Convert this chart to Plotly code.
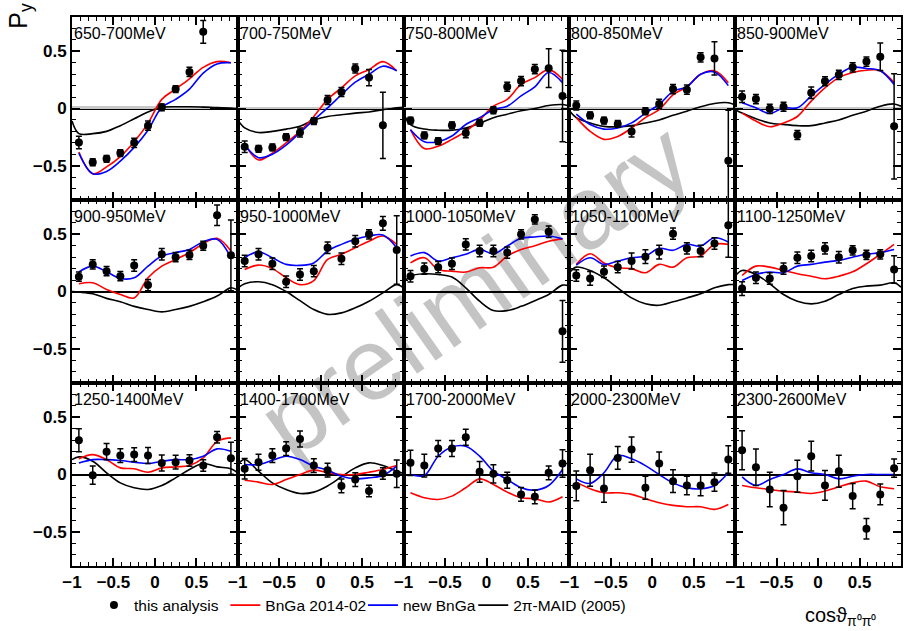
import plotly.graph_objects as go
from plotly.subplots import make_subplots

energy_labels = ["650-700MeV", "700-750MeV", "750-800MeV", "800-850MeV", "850-900MeV",
                 "900-950MeV", "950-1000MeV", "1000-1050MeV", "1050-1100MeV", "1100-1250MeV",
                 "1250-1400MeV", "1400-1700MeV", "1700-2000MeV", "2000-2300MeV", "2300-2600MeV"]

cos_bins = [-0.917, -0.75, -0.583, -0.417, -0.25, -0.083, 0.083, 0.25, 0.417, 0.583, 0.75, 0.917]
maid_cos = [-1.0, -0.917, -0.75, -0.583, -0.417, -0.25, -0.083, 0.083, 0.25, 0.417, 0.583, 0.75, 0.917, 1.0]

py_values = [
    [-0.297, -0.47, -0.44, -0.39, -0.30, -0.15, 0.01, 0.17, 0.32, 0.67, None, None],
    [-0.335, -0.353, -0.34, -0.25, -0.21, -0.11, 0.074, 0.144, 0.35, 0.27, -0.147, None],
    [-0.106, -0.235, -0.285, -0.147, -0.215, -0.126, -0.015, 0.19, 0.24, 0.344, 0.353, 0.11],
    [0.026, -0.06, -0.106, -0.135, -0.2, -0.024, 0.04, 0.17, 0.165, 0.447, 0.438, -0.456],
    [0.103, 0.082, -0.003, 0.015, -0.232, 0.138, 0.238, 0.294, 0.36, 0.41, 0.453, -0.156],
    [0.13, 0.237, 0.178, 0.134, 0.228, 0.056, 0.325, 0.30, 0.32, 0.40, 0.667, 0.316],
    [0.266, 0.325, 0.243, 0.085, 0.149, 0.178, 0.383, 0.287, 0.44, 0.5, 0.596, 0.363],
    [0.134, 0.20, 0.213, 0.243, 0.412, 0.354, 0.354, 0.34, 0.50, 0.63, 0.523, -0.348],
    [0.14, 0.114, 0.172, 0.213, 0.266, 0.304, 0.345, 0.506, 0.377, 0.354, 0.42, 0.579],
    [0.026, 0.12, 0.114, 0.20, 0.295, 0.31, 0.377, 0.30, 0.36, 0.32, 0.325, 0.193],
    [0.30, -0.006, 0.20, 0.166, 0.174, 0.166, 0.10, 0.108, 0.122, 0.078, 0.326, 0.142],
    [0.05, 0.108, 0.166, 0.227, 0.311, 0.078, 0.038, -0.10, -0.044, -0.145, 0.009, 0.006],
    [0.102, 0.078, 0.227, 0.227, 0.326, 0.023, 0.006, -0.05, -0.174, -0.195, 0.015, 0.096],
    [-0.10, 0.038, -0.122, 0.145, 0.218, -0.116, 0.096, -0.058, -0.096, -0.096, -0.067, 0.131],
    [0.212, 0.064, -0.131, -0.29, -0.015, 0.16, -0.096, 0.029, -0.189, -0.474, -0.174, 0.055],
]

py_errors = [
    [0.055, 0.03, 0.03, 0.03, 0.04, 0.04, 0.03, 0.03, 0.04, 0.10, None, None],
    [0.05, 0.03, 0.03, 0.03, 0.04, 0.03, 0.04, 0.04, 0.04, 0.07, 0.29, None],
    [0.03, 0.03, 0.03, 0.03, 0.04, 0.03, 0.03, 0.04, 0.04, 0.04, 0.17, 0.40],
    [0.04, 0.03, 0.03, 0.03, 0.05, 0.03, 0.04, 0.04, 0.04, 0.04, 0.145, 0.44],
    [0.05, 0.04, 0.04, 0.04, 0.04, 0.05, 0.04, 0.04, 0.04, 0.04, 0.12, 0.46],
    [0.04, 0.04, 0.04, 0.04, 0.05, 0.05, 0.05, 0.04, 0.04, 0.04, 0.09, 0.31],
    [0.05, 0.05, 0.05, 0.05, 0.05, 0.05, 0.05, 0.05, 0.05, 0.04, 0.06, 0.30],
    [0.05, 0.05, 0.05, 0.05, 0.05, 0.05, 0.05, 0.05, 0.04, 0.04, 0.05, 0.27],
    [0.05, 0.06, 0.05, 0.05, 0.07, 0.06, 0.06, 0.05, 0.05, 0.05, 0.05, 0.28],
    [0.06, 0.05, 0.05, 0.05, 0.05, 0.05, 0.05, 0.05, 0.04, 0.04, 0.04, 0.12],
    [0.10, 0.08, 0.07, 0.06, 0.06, 0.07, 0.07, 0.06, 0.05, 0.05, 0.05, 0.14],
    [0.09, 0.07, 0.06, 0.06, 0.07, 0.06, 0.06, 0.06, 0.06, 0.05, 0.05, 0.12],
    [0.11, 0.10, 0.07, 0.07, 0.07, 0.09, 0.08, 0.07, 0.06, 0.06, 0.06, 0.12],
    [0.13, 0.14, 0.12, 0.10, 0.11, 0.10, 0.10, 0.10, 0.08, 0.09, 0.08, 0.12],
    [0.17, 0.16, 0.15, 0.15, 0.14, 0.13, 0.13, 0.14, 0.11, 0.09, 0.09, 0.08],
]

bnga2014_values = [
    [-0.38, -0.57, -0.51, -0.42, -0.29, -0.13, 0.08, 0.17, 0.26, 0.36, 0.41, 0.40],
    [-0.31, -0.45, -0.39, -0.30, -0.20, -0.07, 0.08, 0.18, 0.285, 0.34, 0.41, 0.33],
    [-0.185, -0.35, -0.33, -0.27, -0.20, -0.10, 0.02, 0.08, 0.21, 0.27, 0.34, 0.256],
    [-0.08, -0.20, -0.27, -0.245, -0.17, -0.08, -0.01, 0.12, 0.19, 0.30, 0.33, 0.226],
    [-0.04, -0.11, -0.16, -0.126, -0.07, 0.065, 0.18, 0.27, 0.315, 0.335, 0.33, 0.226],
    [0.067, 0.076, 0.018, -0.026, -0.056, 0.12, 0.222, 0.28, 0.34, 0.418, 0.465, 0.354],
    [0.193, 0.231, 0.20, 0.12, 0.06, 0.096, 0.28, 0.325, 0.383, 0.44, 0.485, 0.412],
    [0.25, 0.295, 0.193, 0.178, 0.17, 0.207, 0.213, 0.31, 0.368, 0.40, 0.44, 0.46],
    [0.237, 0.33, 0.25, 0.207, 0.20, 0.164, 0.237, 0.213, 0.295, 0.31, 0.412, 0.412],
    [0.14, 0.222, 0.213, 0.184, 0.155, 0.134, 0.111, 0.134, 0.172, 0.243, 0.325, 0.412],
    [0.137, 0.174, 0.13, 0.058, 0.05, 0.02, 0.058, 0.067, 0.078, 0.145, 0.29, 0.32],
    [-0.05, -0.067, -0.087, -0.044, 0.0, 0.038, 0.015, 0.0, 0.0, 0.02, 0.044, 0.078],
    [-0.16, -0.203, -0.218, -0.189, -0.116, -0.038, -0.087, -0.154, -0.203, -0.212, -0.241, -0.195],
    [-0.067, -0.125, -0.16, -0.16, -0.174, -0.212, -0.247, -0.27, -0.282, -0.282, -0.305, -0.262],
    [-0.096, -0.116, -0.131, -0.145, -0.154, -0.166, -0.145, -0.108, -0.073, -0.058, -0.108, -0.125],
]

new_bnga_values = [
    [-0.39, -0.57, -0.55, -0.46, -0.34, -0.19, 0.01, 0.08, 0.17, 0.31, 0.39, 0.40],
    [-0.32, -0.43, -0.40, -0.32, -0.21, -0.10, 0.006, 0.12, 0.23, 0.30, 0.37, 0.33],
    [-0.185, -0.29, -0.29, -0.24, -0.14, -0.08, -0.01, 0.02, 0.11, 0.19, 0.315, 0.226],
    [-0.05, -0.14, -0.18, -0.17, -0.126, -0.04, 0.035, 0.15, 0.19, 0.30, 0.32, 0.20],
    [0.05, 0.006, -0.044, 0.006, 0.006, 0.11, 0.21, 0.30, 0.36, 0.35, 0.33, 0.21],
    [0.172, 0.222, 0.172, 0.114, 0.12, 0.222, 0.31, 0.34, 0.368, 0.435, 0.456, 0.295],
    [0.295, 0.348, 0.295, 0.237, 0.228, 0.25, 0.354, 0.412, 0.456, 0.485, 0.494, 0.383],
    [0.31, 0.34, 0.266, 0.295, 0.325, 0.368, 0.33, 0.398, 0.465, 0.477, 0.485, 0.46],
    [0.23, 0.295, 0.237, 0.266, 0.295, 0.31, 0.377, 0.36, 0.412, 0.398, 0.47, 0.433],
    [0.096, 0.149, 0.17, 0.164, 0.222, 0.237, 0.257, 0.272, 0.30, 0.325, 0.34, 0.368],
    [0.10, 0.13, 0.13, 0.122, 0.108, 0.096, 0.116, 0.13, 0.13, 0.16, 0.224, 0.203],
    [0.087, 0.087, 0.125, 0.16, 0.131, 0.073, 0.038, -0.015, -0.038, -0.029, -0.009, 0.073],
    [0.0, -0.009, 0.16, 0.241, 0.247, 0.16, 0.029, -0.044, -0.116, -0.137, -0.096, 0.044],
    [-0.038, -0.078, 0.015, 0.166, 0.137, 0.078, 0.0, -0.073, -0.116, -0.125, -0.096, 0.015],
    [-0.02, -0.096, -0.044, 0.0, 0.049, 0.015, 0.0, -0.038, -0.015, 0.0, 0.0, 0.0],
]

maid_values = [
    [-0.11, -0.22, -0.22, -0.20, -0.15, -0.09, -0.03, 0.01, 0.015, 0.015, 0.012, 0.008, 0.005, 0.0],
    [-0.10, -0.17, -0.21, -0.20, -0.18, -0.156, -0.10, -0.07, -0.055, -0.04, -0.03, -0.01, 0.006, 0.01],
    [-0.04, -0.14, -0.18, -0.19, -0.19, -0.17, -0.13, -0.08, -0.05, -0.02, 0.0, 0.026, 0.035, 0.02],
    [-0.02, -0.08, -0.126, -0.156, -0.16, -0.15, -0.126, -0.10, -0.06, -0.024, 0.015, 0.044, 0.05, 0.03],
    [-0.01, -0.04, -0.09, -0.126, -0.14, -0.15, -0.15, -0.126, -0.10, -0.06, -0.024, 0.02, 0.04, 0.02],
    [0.0, -0.005, -0.02, -0.06, -0.09, -0.13, -0.158, -0.178, -0.158, -0.13, -0.09, -0.04, 0.032, 0.01],
    [0.03, 0.067, 0.085, 0.06, 0.0, -0.08, -0.158, -0.20, -0.187, -0.143, -0.085, -0.012, 0.06, 0.03],
    [0.076, 0.134, 0.155, 0.149, 0.126, 0.032, -0.085, -0.167, -0.167, -0.13, -0.08, -0.026, 0.056, 0.047],
    [0.164, 0.213, 0.184, 0.12, 0.032, -0.056, -0.108, -0.12, -0.09, -0.056, -0.02, 0.032, 0.06, 0.06],
    [0.134, 0.184, 0.149, 0.067, -0.026, -0.085, -0.108, -0.085, -0.026, 0.026, 0.047, 0.056, 0.076, 0.038],
    [0.13, 0.154, 0.116, 0.015, -0.073, -0.116, -0.131, -0.096, -0.029, 0.044, 0.096, 0.067, 0.05, 0.015],
    [0.087, 0.131, 0.029, -0.073, -0.131, -0.166, -0.154, -0.10, -0.02, 0.058, 0.102, 0.078, 0.029, 0.009],
    None, None, None,
]

sys_values = [
    [0.02, 0.02, 0.02, 0.02, 0.02, 0.02, 0.02, 0.02, 0.02, 0.02, None, None],
    [0.015, 0.015, 0.015, 0.015, 0.015, 0.015, 0.015, 0.015, 0.015, 0.015, 0.015, None],
    [0.015, 0.015, 0.015, 0.015, 0.015, 0.015, 0.015, 0.015, 0.015, 0.015, 0.015, 0.015],
    [0.01, 0.01, 0.01, 0.01, 0.01, 0.01, 0.01, 0.01, 0.01, 0.01, 0.015, 0.015],
    [0.01, 0.01, 0.01, 0.01, 0.01, 0.01, 0.01, 0.01, 0.01, 0.01, 0.015, 0.015],
]

x_tickvals = [-1, -0.5, 0, 0.5, 1]
y_tickvals = [-0.5, 0, 0.5]
y_ticktext = ["\u22120.5", "0", "0.5"]

FONT = "Liberation Sans"
NROWS, NCOLS = 3, 5

fig = make_subplots(rows=NROWS, cols=NCOLS, horizontal_spacing=0, vertical_spacing=0)

for i, label in enumerate(energy_labels):
    r = i // NCOLS + 1
    c = i % NCOLS + 1
    first = (i == 0)
    if i < len(sys_values):
        fig.add_trace(go.Bar(x=cos_bins, y=sys_values[i], width=0.1667, marker=dict(color="#c8c8c8", line=dict(width=0)),
                             showlegend=False, hoverinfo="skip"), row=r, col=c)
    if maid_values[i] is not None:
        fig.add_trace(go.Scatter(x=maid_cos, y=maid_values[i], mode="lines", line=dict(color="black", width=1.6, shape="spline"),
                                 name="2\u03c0-MAID (2005)", showlegend=first, legend="legend4"), row=r, col=c)
    fig.add_trace(go.Scatter(x=cos_bins, y=bnga2014_values[i], mode="lines", line=dict(color="red", width=1.6, shape="spline"),
                             name="BnGa 2014-02", showlegend=first, legend="legend2"), row=r, col=c)
    fig.add_trace(go.Scatter(x=cos_bins, y=new_bnga_values[i], mode="lines", line=dict(color="blue", width=1.6, shape="spline"),
                             name="new BnGa", showlegend=first, legend="legend3"), row=r, col=c)
    fig.add_trace(go.Scatter(x=cos_bins, y=py_values[i], mode="markers",
                             marker=dict(color="black", size=8, symbol="circle"),
                             error_y=dict(type="data", array=py_errors[i], color="black", thickness=1.5, width=3),
                             name="this analysis", showlegend=first, legend="legend"), row=r, col=c)
    fig.add_annotation(text=label, xref="x domain" if i == 0 else f"x{i+1} domain",
                       yref="y domain" if i == 0 else f"y{i+1} domain",
                       x=0.0, y=0.965, xanchor="left", yanchor="top", showarrow=False,
                       font=dict(family=FONT, size=16, color="black"))

    xt = ["\u22121", "\u22120.5", "0", "0.5", "1" if c == NCOLS else ""]
    fig.update_xaxes(row=r, col=c, range=[-1, 1], showgrid=False, zeroline=False,
                     showline=True, linecolor="black", linewidth=2, mirror="allticks",
                     ticks="inside", ticklen=8, tickwidth=1.5, tickcolor="black",
                     tickmode="array", tickvals=x_tickvals, ticktext=xt,
                     showticklabels=(r == NROWS),
                     minor=dict(ticks="inside", ticklen=4, tickwidth=1, tickcolor="black", tick0=-1, dtick=0.1, showgrid=False),
                     tickfont=dict(family=FONT, size=17, color="black", weight="bold"))
    fig.update_yaxes(row=r, col=c, range=[-0.8, 0.8], showgrid=False,
                     zeroline=True, zerolinecolor="black", zerolinewidth=1.5,
                     showline=True, linecolor="black", linewidth=2, mirror="allticks",
                     ticks="inside", ticklen=8, tickwidth=1.5, tickcolor="black",
                     tickmode="array", tickvals=y_tickvals, ticktext=y_ticktext,
                     showticklabels=(c == 1),
                     minor=dict(ticks="inside", ticklen=4, tickwidth=1, tickcolor="black", tick0=0, dtick=0.1, showgrid=False),
                     tickfont=dict(family=FONT, size=17, color="black", weight="bold"))

# watermark
fig.add_shape(type="line", xref="paper", yref="paper", x0=0.2816, y0=0.3078, x1=0.6763, y1=0.7268,
              line=dict(width=0, color="rgba(0,0,0,0)"), layer="below",
              label=dict(text="preliminary", textposition="middle", yanchor="middle",
                         font=dict(family=FONT, size=102, color="#c4c4c4")))

fig.add_annotation(text="P<sub>y</sub>", xref="paper", yref="paper", x=-0.063, y=1.002,
                   xanchor="center", yanchor="middle", textangle=-90, showarrow=False,
                   font=dict(family=FONT, size=25, color="black"))
fig.add_annotation(text="cos\u03d1<sub>\u03c0\u2070\u03c0\u2070</sub>", xref="paper", yref="paper", x=0.972, y=-0.092,
                   xanchor="right", yanchor="middle", showarrow=False,
                   font=dict(family=FONT, size=20, color="black"))

leg_common = dict(orientation="h", yanchor="top", xanchor="left", y=-0.041, bgcolor="rgba(0,0,0,0)",
                  font=dict(family=FONT, size=15.5, color="black"), itemwidth=30, borderwidth=0)
fig.update_layout(
    width=904, height=631,
    margin=dict(l=72, r=1, t=17, b=65),
    paper_bgcolor="white", plot_bgcolor="rgba(0,0,0,0)",
    bargap=0,
    legend=dict(x=0.0265, **leg_common),
    legend2=dict(x=0.185, **leg_common),
    legend3=dict(x=0.351, **leg_common),
    legend4=dict(x=0.484, **leg_common),
)

fig.write_html("out.html")
